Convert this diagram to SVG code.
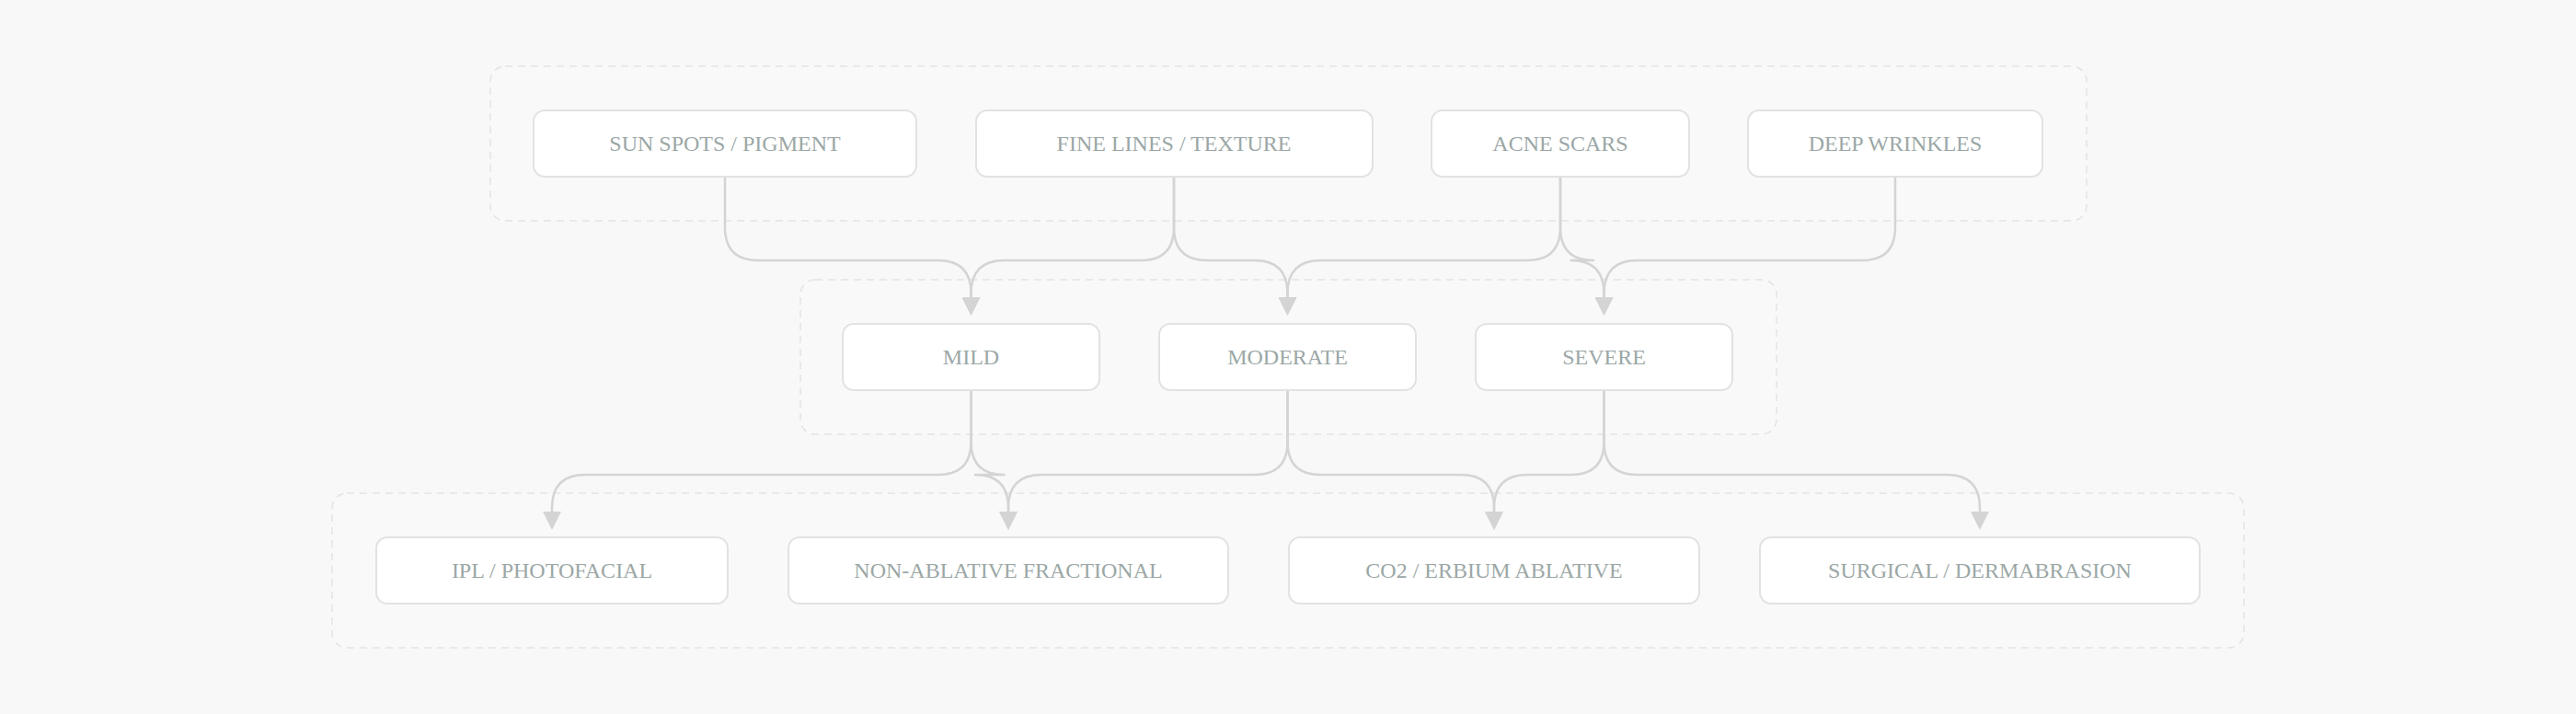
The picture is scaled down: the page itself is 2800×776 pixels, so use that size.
<svg xmlns="http://www.w3.org/2000/svg" width="2800" height="776" viewBox="0 0 2800 776">
<defs>
<style>
.bg{fill:#f8f8f8}
.grp{fill:#f9f9f9;stroke:#e3e3e3;stroke-width:1.5;stroke-dasharray:8 6}
.box{fill:#ffffff;stroke:#e2e2e2;stroke-width:2}
.lbl{font-family:"Liberation Serif","Times New Roman",serif;font-size:24px;fill:#9ba7a6;text-anchor:middle}
.edge{fill:none;stroke:#d4d4d4;stroke-width:2.5;stroke-linejoin:round;marker-end:url(#ah)}
</style>
<marker id="ah" viewBox="0 0 20 20" markerWidth="20" markerHeight="20" refX="0" refY="10" orient="auto" markerUnits="userSpaceOnUse">
<path d="M0,0 L20,10 L0,20 z" fill="#d4d4d4"/>
</marker>
</defs>
<rect class="bg" x="0" y="0" width="2800" height="776"/>
<g id="groups">
<rect id="group-concerns" class="grp" x="533" y="72" width="1735" height="168" rx="16"/>
<rect id="group-severity" class="grp" x="870" y="304" width="1061" height="168" rx="16"/>
<rect id="group-treatments" class="grp" x="361" y="536" width="2078" height="168" rx="16"/>
</g>
<g id="connectors">
<path class="edge" d="M788 192 V247 Q788 283 824 283 H1019.5 Q1055.5 283 1055.5 319 V323"/>
<path class="edge" d="M1276 192 V247 Q1276 283 1240 283 H1091.5 Q1055.5 283 1055.5 319 V323"/>
<path class="edge" d="M1276 192 V247 Q1276 283 1312 283 H1363.5 Q1399.5 283 1399.5 319 V323"/>
<path class="edge" d="M1696 192 V247 Q1696 283 1660 283 H1435.5 Q1399.5 283 1399.5 319 V323"/>
<path class="edge" d="M1696 192 V247 Q1696 283 1732 283 H1707.5 Q1743.5 283 1743.5 319 V323"/>
<path class="edge" d="M2060 192 V247 Q2060 283 2024 283 H1779.5 Q1743.5 283 1743.5 319 V323"/>
<path class="edge" d="M1055.5 424 V480 Q1055.5 516 1019.5 516 H636 Q600 516 600 552 V556"/>
<path class="edge" d="M1055.5 424 V480 Q1055.5 516 1091.5 516 H1060 Q1096 516 1096 552 V556"/>
<path class="edge" d="M1399.5 424 V480 Q1399.5 516 1363.5 516 H1132 Q1096 516 1096 552 V556"/>
<path class="edge" d="M1399.5 424 V480 Q1399.5 516 1435.5 516 H1588 Q1624 516 1624 552 V556"/>
<path class="edge" d="M1743.5 424 V480 Q1743.5 516 1707.5 516 H1660 Q1624 516 1624 552 V556"/>
<path class="edge" d="M1743.5 424 V480 Q1743.5 516 1779.5 516 H2116 Q2152 516 2152 552 V556"/>
</g>
<g id="node-sun-spots"><rect class="box" x="580" y="120" width="416" height="72" rx="12"/><text class="lbl" x="788" y="164">SUN SPOTS / PIGMENT</text></g>
<g id="node-fine-lines"><rect class="box" x="1061" y="120" width="431" height="72" rx="12"/><text class="lbl" x="1276" y="164">FINE LINES / TEXTURE</text></g>
<g id="node-acne-scars"><rect class="box" x="1556" y="120" width="280" height="72" rx="12"/><text class="lbl" x="1696" y="164">ACNE SCARS</text></g>
<g id="node-deep-wrinkles"><rect class="box" x="1900" y="120" width="320" height="72" rx="12"/><text class="lbl" x="2060" y="164">DEEP WRINKLES</text></g>
<g id="node-mild"><rect class="box" x="916" y="352" width="279" height="72" rx="12"/><text class="lbl" x="1055.5" y="396">MILD</text></g>
<g id="node-moderate"><rect class="box" x="1260" y="352" width="279" height="72" rx="12"/><text class="lbl" x="1399.5" y="396">MODERATE</text></g>
<g id="node-severe"><rect class="box" x="1604" y="352" width="279" height="72" rx="12"/><text class="lbl" x="1743.5" y="396">SEVERE</text></g>
<g id="node-ipl"><rect class="box" x="409" y="584" width="382" height="72" rx="12"/><text class="lbl" x="600" y="628">IPL / PHOTOFACIAL</text></g>
<g id="node-non-ablative"><rect class="box" x="857" y="584" width="478" height="72" rx="12"/><text class="lbl" x="1096" y="628">NON-ABLATIVE FRACTIONAL</text></g>
<g id="node-co2"><rect class="box" x="1401" y="584" width="446" height="72" rx="12"/><text class="lbl" x="1624" y="628">CO2 / ERBIUM ABLATIVE</text></g>
<g id="node-surgical"><rect class="box" x="1913" y="584" width="478" height="72" rx="12"/><text class="lbl" x="2152" y="628">SURGICAL / DERMABRASION</text></g>
</svg>
